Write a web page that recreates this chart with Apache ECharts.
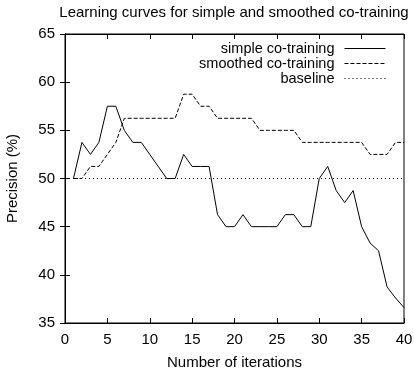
<!DOCTYPE html>
<html>
<head>
<meta charset="utf-8">
<script src="https://cdn.jsdelivr.net/npm/echarts@6/dist/echarts.min.js"></script>
<style>
  html, body { margin: 0; padding: 0; background: #fff; }
</style>
</head>
<body>
<div id="main" style="width: 414px; height: 372px"></div>
<script>
// iterations 1..40
const iterations = [1, 2, 3, 4, 5, 6, 7, 8, 9, 10,
  11, 12, 13, 14, 15, 16, 17, 18, 19, 20,
  21, 22, 23, 24, 25, 26, 27, 28, 29, 30,
  31, 32, 33, 34, 35, 36, 37, 38, 39, 40]

const simpleCoTraining = [50, 53.75, 52.5, 53.75, 57.5, 57.5, 55, 53.75, 53.75, 52.5,
  51.25, 50, 50, 52.5, 51.25, 51.25, 51.25, 46.25, 45, 45,
  46.25, 45, 45, 45, 45, 46.25, 46.25, 45, 45, 50,
  51.25, 48.75, 47.5, 48.75, 45, 43.3, 42.5, 38.75, 37.6, 36.6]

const smoothedCoTraining = [50, 50, 51.25, 51.25, 52.5, 53.75, 56.25, 56.25, 56.25, 56.25,
  56.25, 56.25, 56.25, 58.75, 58.75, 57.5, 57.5, 56.25, 56.25, 56.25,
  56.25, 56.25, 55, 55, 55, 55, 55, 53.75, 53.75, 53.75,
  53.75, 53.75, 53.75, 53.75, 53.75, 52.5, 52.5, 52.5, 53.75, 53.75]

const baselineX = [0, 40]
const baselineY = [50, 50]

const font = 'Liberation Sans, Arial, sans-serif'

function pairs(xs, ys) {
  return xs.map((x, i) => [x, ys[i]])
}

const chart = echarts.init(document.getElementById('main'))

const lineSeries = (name, data, type) => ({
  name: name,
  type: 'line',
  data: data,
  showSymbol: false,
  symbol: 'none',
  animation: false,
  lineStyle: { color: '#000', width: 1, type: type },
  itemStyle: { color: '#000' }
})

chart.setOption({
  animation: false,
  title: {
    text: 'Learning curves for simple and smoothed co-training',
    left: 229,
    top: 0,
    textAlign: 'center',
    textStyle: { fontFamily: font, fontSize: 15, fontWeight: 'normal', color: '#000' }
  },
  legend: {
    orient: 'vertical',
    right: 23,
    top: 36,
    align: 'right',
    itemWidth: 41,
    itemHeight: 10,
    itemGap: 0,
    itemStyle: { opacity: 0 },
    lineStyle: { width: 1 },
    textStyle: { fontFamily: font, fontSize: 14.5, lineHeight: 14, color: '#000', padding: [0, 5, 0, 0] },
    data: ['simple co-training', 'smoothed co-training', 'baseline']
  },
  grid: {
    left: 65, right: 10, top: 34, bottom: 49,
    outerBoundsMode: 'none',
    containLabel: false,
    show: true, borderColor: '#000', borderWidth: 1
  },
  xAxis: [{
    type: 'value', min: 0, max: 40, interval: 5,
    name: 'Number of iterations', nameLocation: 'middle', nameGap: 32,
    nameTextStyle: { fontFamily: font, fontSize: 15, color: '#000' },
    axisLine: { lineStyle: { color: '#000' } },
    axisTick: { inside: true, length: 5, lineStyle: { color: '#000' } },
    axisLabel: { fontFamily: font, fontSize: 15, color: '#000', margin: 9 },
    splitLine: { show: false }
  }, {
    type: 'value', min: 0, max: 40, interval: 5, position: 'top',
    axisLine: { lineStyle: { color: '#000' } },
    axisTick: { inside: true, length: 5, lineStyle: { color: '#000' } },
    axisLabel: { show: false },
    splitLine: { show: false }
  }],
  yAxis: [{
    type: 'value', min: 35, max: 65, interval: 5,
    name: 'Precision (%)', nameLocation: 'middle', nameGap: 45,
    nameTextStyle: { fontFamily: font, fontSize: 15, color: '#000' },
    axisLine: { show: true, lineStyle: { color: '#000' } },
    axisTick: { show: true, inside: true, length: 5, lineStyle: { color: '#000' } },
    axisLabel: { fontFamily: font, fontSize: 15, color: '#000', margin: 10 },
    splitLine: { show: false }
  }, {
    type: 'value', min: 35, max: 65, interval: 5, position: 'right',
    axisLine: { show: true, lineStyle: { color: '#000' } },
    axisTick: { show: true, inside: true, length: 5, lineStyle: { color: '#000' } },
    axisLabel: { show: false },
    splitLine: { show: false }
  }],
  series: [
    lineSeries('simple co-training', pairs(iterations, simpleCoTraining), 'solid'),
    lineSeries('smoothed co-training', pairs(iterations, smoothedCoTraining), [4, 2]),
    lineSeries('baseline', pairs(baselineX, baselineY), [1, 3])
  ]
})
</script>
</body>
</html>
